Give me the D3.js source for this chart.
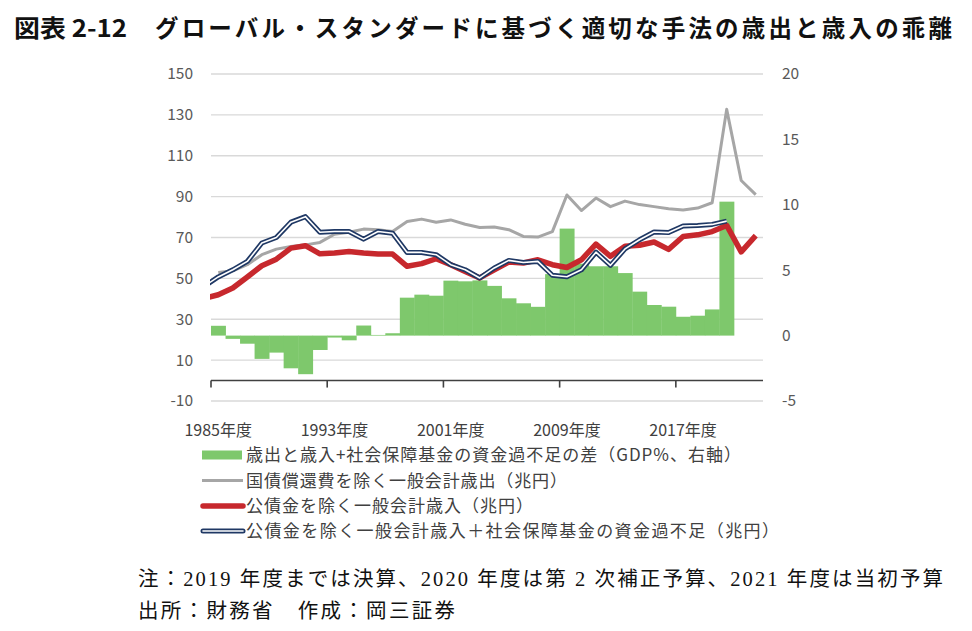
<!DOCTYPE html>
<html><head><meta charset="utf-8">
<script src="https://cdn.jsdelivr.net/npm/d3@7"></script>
<style>body{margin:0;background:#fff;} svg{display:block;}</style>
</head><body><svg id="c" width="972" height="631"></svg>
<script>
// ---- data ----
const years = [1985,1986,1987,1988,1989,1990,1991,1992,1993,1994,1995,1996,1997,1998,1999,2000,2001,2002,2003,2004,2005,2006,2007,2008,2009,2010,2011,2012,2013,2014,2015,2016,2017,2018,2019,2020,2021,2022];
// 歳出と歳入+社会保障基金の資金過不足の差（GDP%、右軸）
const gapPctGDP = [0.75,-0.25,-0.62,-1.78,-1.3,-2.5,-2.95,-1.1,-0.15,-0.36,0.77,0.05,0.18,2.9,3.13,3.05,4.2,4.15,4.22,3.8,2.85,2.47,2.2,4.7,8.18,5.5,5.3,5.3,4.78,3.36,2.34,2.21,1.44,1.52,2.0,10.24,null,null];
// 国債償還費を除く一般会計歳出（兆円）
const expenditureExDebt = [52.9,53.7,56.7,61.6,64.3,65.6,66.4,67.6,71.6,72.6,74.1,73.8,72.9,77.8,79.0,77.5,78.6,76.5,74.9,75.1,73.8,70.5,70.2,72.9,90.8,83.2,89.3,85.1,87.8,86.1,85.1,84.1,83.5,84.4,87.0,132.7,97.9,91.0];
// 公債金を除く一般会計歳入（兆円）
const revenueExBonds = [42.0,45.3,50.7,56.2,59.4,64.8,66.0,62.0,62.4,63.2,62.4,61.9,61.9,55.9,57.2,59.6,56.7,53.4,50.2,54.2,58.0,57.5,59.1,56.7,55.3,59.1,66.8,60.8,65.7,66.2,67.8,64.2,70.5,71.3,72.9,75.9,63.0,70.9];
// 公債金を除く一般会計歳入＋社会保障基金の資金過不足（兆円）
const revenuePlusSSFund = [50.7,54.2,58.3,67.3,70.0,77.5,80.2,72.6,72.9,72.9,69.2,72.9,72.1,62.7,62.7,61.6,56.7,54.2,50.2,55.1,58.8,57.8,58.3,51.5,50.8,54.2,62.8,56.4,64.4,68.9,72.7,72.4,75.6,75.9,76.4,78.0,null,null];
// values of the year before the first category (clipped at the plot edge)
const revenueExBondsPrev = 40.1;
const revenuePlusSSFundPrev = 46.0;

const leftTicks = [150,130,110,90,70,50,30,10,-10];
const rightTicks = [20,15,10,5,0,-5];
const xLabelYears = [1985,1993,2001,2009,2017];
const yearSuffix = "年度";
const legendLabels = [
  "歳出と歳入+社会保障基金の資金過不足の差（GDP%、右軸）",
  "国債償還費を除く一般会計歳出（兆円）",
  "公債金を除く一般会計歳入（兆円）",
  "公債金を除く一般会計歳入＋社会保障基金の資金過不足（兆円）"
];
const titleHead = "図表 2-12";
const titleBody = "グローバル・スタンダードに基づく適切な手法の歳出と歳入の乖離";
const note1 = "注：2019 年度までは決算、2020 年度は第 2 次補正予算、2021 年度は当初予算";
const note2 = "出所：財務省　作成：岡三証券";

// ---- styles ----
const C = {green:"#7ec86c", gray:"#a6a6a6", red:"#c7282d", navy:"#1f3864", grid:"#d9d9d9", axis:"#404040", label:"#595959", text:"#404040"};
const JP = "'Noto Sans CJK JP','Noto Sans',sans-serif";
const SERIF = "'Liberation Serif','DejaVu Serif','Noto Sans CJK JP',serif";

const svg = d3.select('#c');
const M = {l:211, r:763, t:74, b:401};
const x = d3.scaleBand().domain(years).range([M.l, M.r]).padding(0);
const yL = d3.scaleLinear().domain([-10,150]).range([M.b, M.t]);
const yR = d3.scaleLinear().domain([-5,20]).range([M.b, M.t]);
const cx = yr => x(yr) + x.bandwidth()/2;

// title
svg.append('text').attr('x',14).attr('y',37).attr('font-family',JP).attr('font-weight',700)
  .attr('font-size',23.5).attr('fill','#111').text(titleHead)
  .attr('textLength',113).attr('lengthAdjust','spacingAndGlyphs');
svg.append('text').attr('x',155).attr('y',37).attr('font-family',JP).attr('font-weight',700)
  .attr('font-size',23.5).attr('fill','#111').text(titleBody)
  .attr('textLength',797).attr('lengthAdjust','spacing');

// gridlines
svg.append('g').selectAll('line').data(leftTicks).join('line')
  .attr('x1',M.l).attr('x2',M.r).attr('y1',d=>yL(d)).attr('y2',d=>yL(d))
  .attr('stroke',C.grid).attr('stroke-width',1.3);

// left labels
svg.append('g').selectAll('text').data(leftTicks).join('text')
  .attr('x',193).attr('y',d=>yL(d)).attr('dy','0.35em').attr('text-anchor','end')
  .attr('font-family',JP).attr('font-size',15.5).attr('fill',C.label).text(d=>d);
// right labels
svg.append('g').selectAll('text').data(rightTicks).join('text')
  .attr('x',782).attr('y',d=>yR(d)).attr('dy','0.35em').attr('text-anchor','start')
  .attr('font-family',JP).attr('font-size',15.5).attr('fill',C.label).text(d=>d);

// bars
const barData = years.map((yr,i)=>({yr, v:gapPctGDP[i]})).filter(d=>d.v!=null);
svg.append('g').selectAll('rect').data(barData).join('rect')
  .attr('x',d=>x(d.yr)).attr('width',x.bandwidth()+0.4)
  .attr('y',d=>Math.min(yR(d.v),yR(0))).attr('height',d=>Math.abs(yR(d.v)-yR(0)))
  .attr('fill',C.green);

// x axis
const y0 = yL(0);
svg.append('line').attr('x1',M.l).attr('x2',M.r).attr('y1',y0).attr('y2',y0)
  .attr('stroke',C.axis).attr('stroke-width',1.6);
svg.append('g').selectAll('line').data(xLabelYears).join('line')
  .attr('x1',d=>x(d)).attr('x2',d=>x(d)).attr('y1',y0).attr('y2',y0+7)
  .attr('stroke',C.axis).attr('stroke-width',1.6);
svg.append('g').selectAll('text').data(xLabelYears).join('text')
  .attr('x',d=>cx(d)).attr('y',436).attr('text-anchor','middle')
  .attr('font-family',JP).attr('font-size',16).attr('fill',C.text).text(d=>d+yearSuffix);

// lines
svg.append('defs').append('clipPath').attr('id','plotclip').append('rect')
  .attr('x',M.l-1).attr('y',0).attr('width',M.r-M.l+2).attr('height',631);
const gl = svg.append('g').attr('clip-path','url(#plotclip)');
const line = d3.line().defined(d=>d.v!=null).x(d=>d.x).y(d=>yL(d.v));
const pts = (arr, prev) => {
  const p = years.map((yr,i)=>({x:cx(yr), v:arr[i]}));
  if (prev!=null) p.unshift({x:cx(years[0])-x.step(), v:prev});
  return p;
};
gl.append('path').attr('d',line(pts(expenditureExDebt))).attr('fill','none')
  .attr('stroke',C.gray).attr('stroke-width',3).attr('stroke-linejoin','round');
gl.append('path').attr('d',line(pts(revenueExBonds,revenueExBondsPrev))).attr('fill','none')
  .attr('stroke',C.red).attr('stroke-width',5.5).attr('stroke-linejoin','round');
const navyD = line(pts(revenuePlusSSFund,revenuePlusSSFundPrev));
gl.append('path').attr('d',navyD).attr('fill','none')
  .attr('stroke',C.navy).attr('stroke-width',5).attr('stroke-linejoin','round');
gl.append('path').attr('d',navyD).attr('fill','none')
  .attr('stroke','#fff').attr('stroke-width',1.6).attr('stroke-linejoin','round');

// legend
const legY = [455, 480.5, 506, 531];
const legEnd = [741, 567, 533, 779];
const lg = svg.append('g');
lg.append('rect').attr('x',202).attr('y',legY[0]-4.5).attr('width',40).attr('height',9).attr('fill',C.green);
lg.append('line').attr('x1',202).attr('x2',243).attr('y1',legY[1]).attr('y2',legY[1])
  .attr('stroke',C.gray).attr('stroke-width',3);
lg.append('line').attr('x1',203).attr('x2',243).attr('y1',legY[2]).attr('y2',legY[2])
  .attr('stroke',C.red).attr('stroke-width',5.5).attr('stroke-linecap','round');
lg.append('line').attr('x1',203).attr('x2',243).attr('y1',legY[3]).attr('y2',legY[3])
  .attr('stroke',C.navy).attr('stroke-width',5).attr('stroke-linecap','round');
lg.append('line').attr('x1',203).attr('x2',243).attr('y1',legY[3]).attr('y2',legY[3])
  .attr('stroke','#fff').attr('stroke-width',1.6).attr('stroke-linecap','round');
lg.selectAll('text').data(legendLabels).join('text')
  .attr('x',246).attr('y',(d,i)=>legY[i]).attr('dy','0.36em')
  .attr('font-family',JP).attr('font-size',17).attr('fill',C.text)
  .attr('textLength',(d,i)=>legEnd[i]-246).attr('lengthAdjust','spacing').text(d=>d);

// notes
svg.append('text').attr('x',138).attr('y',586).attr('font-family',SERIF).attr('font-size',20.5)
  .attr('fill','#111').attr('textLength',805).attr('lengthAdjust','spacing').text(note1);
svg.append('text').attr('x',138).attr('y',618).attr('font-family',SERIF).attr('font-size',20.5)
  .attr('fill','#111').attr('textLength',317).attr('lengthAdjust','spacing').text(note2);
</script></body></html>
